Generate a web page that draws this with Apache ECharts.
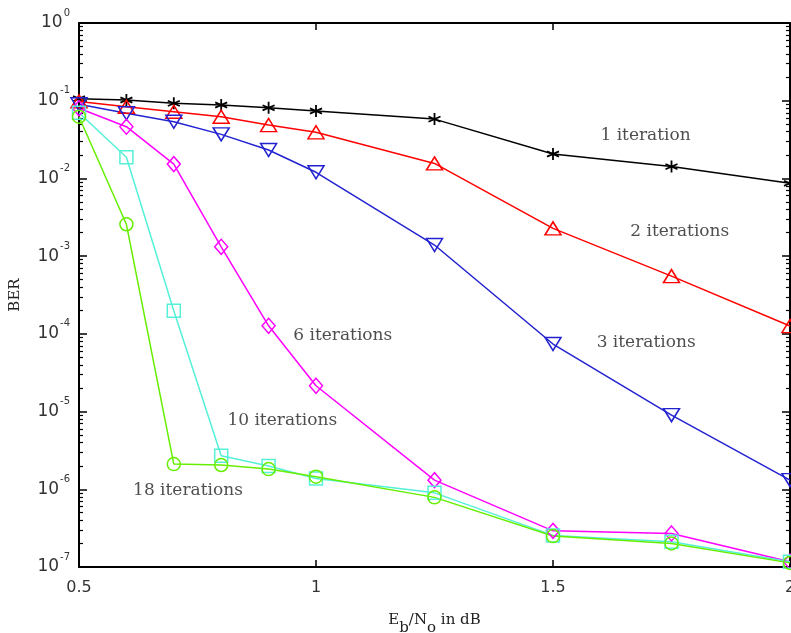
<!DOCTYPE html>
<html>
<head>
<meta charset="utf-8">
<script src="https://cdn.jsdelivr.net/npm/echarts@6/dist/echarts.min.js"></script>
<style>html,body{margin:0;padding:0;background:#fff}#c{width:791px;height:633px}</style>
</head>
<body>
<div id="c"></div>
<script>
// ---- data ----
const ebno = [0.5, 0.6, 0.7, 0.8, 0.9, 1.0, 1.25, 1.5, 1.75, 2.0];
const ber1  = [0.106, 0.102, 0.0925, 0.088, 0.081, 0.0737, 0.058, 0.0206, 0.0142, 0.00865];
const ber2  = [0.098, 0.0837, 0.0722, 0.0622, 0.0486, 0.0392, 0.0156, 0.00228, 0.000554, 0.000126];
const ber3  = [0.09, 0.0689, 0.0537, 0.0369, 0.0232, 0.012, 0.00139, 7.4e-5, 9.0e-6, 1.31e-6];
const ber6  = [0.08, 0.0463, 0.0153, 0.00132, 1.27e-4, 2.15e-5, 1.31e-6, 2.92e-7, 2.7e-7, 1.17e-7];
const ber10 = [0.07, 0.0187, 1.98e-4, 2.7e-6, 1.99e-6, 1.38e-6, 9.0e-7, 2.55e-7, 2.11e-7, 1.17e-7];
const ber18 = [0.0622, 0.00257, 2.11e-6, 2.05e-6, 1.82e-6, 1.45e-6, 7.87e-7, 2.5e-7, 2.01e-7, 1.13e-7];
const xTicks = [0.5, 1, 1.5, 2];
const yDecades = [1e-7, 1e-6, 1e-5, 1e-4, 1e-3, 1e-2, 1e-1, 1];
const annotText = ['1 iteration', '2 iterations', '3 iterations', '6 iterations', '10 iterations', '18 iterations'];
const annotX = [1.599, 1.662, 1.591, 0.951, 0.812, 0.613];
const annotY = [0.0351, 0.00206, 7.68e-5, 9.46e-5, 7.6e-6, 9.57e-7];

// ---- build ----
const yMinor = [];
for (let k = -7; k < 0; k++) for (let m = 2; m <= 9; m++) yMinor.push(m * Math.pow(10, k));

const pair = (ys) => ebno.map((x, i) => [x, ys[i]]);
const asterisk = 'path://M0,-1.15L0,1.15M-0.87,-0.5L0.87,0.5M-0.87,0.5L0.87,-0.5';

function lineSeries(name, ys, color, symbol, size, rotate, bw) {
  return {
    type: 'line', name, data: pair(ys),
    symbol, symbolSize: size, symbolRotate: rotate || 0,
    showAllSymbol: true, clip: false,
    lineStyle: { color, width: 1.5 },
    itemStyle: { color: 'rgba(0,0,0,0)', borderColor: color, borderWidth: bw || 1.5 },
    emphasis: { disabled: true }
  };
}

const tickFont = { fontFamily: 'DejaVu Sans', fontSize: 16, color: '#333' };
const yLabelRich = {
  b: { fontFamily: 'DejaVu Sans', fontSize: 17, color: '#333', lineHeight: 17 },
  s: { fontFamily: 'DejaVu Sans', fontSize: 10, color: '#333', padding: [0, 0, 20, 1] }
};

function yAxisMajor(pos, labels) {
  return {
    type: 'log', logBase: 10, min: 1e-7, max: 1, position: pos,
    axisLine: { show: true, lineStyle: { color: '#000', width: 2 } },
    axisTick: { show: true, inside: true, length: 8, customValues: yDecades, lineStyle: { color: '#000', width: 1.5 } },
    axisLabel: labels ? {
      show: true, margin: 9, customValues: yDecades,
      formatter: v => '{b|10}{s|' + Math.round(Math.log10(v)) + '}',
      rich: yLabelRich
    } : { show: false },
    splitLine: { show: false }, minorTick: { show: false }
  };
}
function yAxisMinor(pos) {
  return {
    type: 'log', logBase: 10, min: 1e-7, max: 1, position: pos,
    axisLine: { show: false },
    axisTick: { show: true, inside: true, length: 4, customValues: yMinor, lineStyle: { color: '#000', width: 1.2 } },
    axisLabel: { show: false }, splitLine: { show: false }
  };
}
function xAxisDef(pos, labels) {
  return {
    type: 'value', min: 0.5, max: 2, interval: 0.5, position: pos,
    axisLine: { show: true, lineStyle: { color: '#000', width: 2 } },
    axisTick: { show: true, inside: true, length: 7, customValues: xTicks, lineStyle: { color: '#000', width: 1.5 } },
    axisLabel: labels ? Object.assign({ show: true, margin: 13, customValues: xTicks, formatter: v => String(v) }, tickFont) : { show: false },
    splitLine: { show: false }
  };
}

const xBottom = xAxisDef('bottom', true);
xBottom.name = 'E{sub|b}/N{sub|o} in dB';
xBottom.nameLocation = 'middle';
xBottom.nameGap = 38;
xBottom.nameTextStyle = {
  fontFamily: 'DejaVu Serif', fontSize: 15, color: '#222',
  rich: { sub: { fontFamily: 'DejaVu Serif', fontSize: 15, color: '#222', padding: [16, 0, 0, 0] } }
};

const yMain = yAxisMajor('left', true);
yMain.name = 'BER';
yMain.nameLocation = 'middle';
yMain.nameGap = 56;
yMain.nameTextStyle = { fontFamily: 'DejaVu Serif', fontSize: 15, color: '#222' };

const option = {
  animation: false,
  backgroundColor: '#fff',
  grid: { left: 79, right: 1, top: 23, bottom: 66, containLabel: false, outerBoundsMode: 'none' },
  xAxis: [xBottom, xAxisDef('top', false)],
  yAxis: [yMain, yAxisMinor('left'), yAxisMajor('right', false), yAxisMinor('right')],
  series: [
    lineSeries('1 iteration', ber1, '#000000', asterisk, 12, 0, 1.8),
    lineSeries('2 iterations', ber2, '#ff0000', 'triangle', [16, 13]),
    lineSeries('3 iterations', ber3, '#2222d0', 'triangle', [16, 13], 180),
    lineSeries('6 iterations', ber6, '#ff00ff', 'diamond', [13, 15]),
    lineSeries('10 iterations', ber10, '#55f0d8', 'rect', [13, 13]),
    lineSeries('18 iterations', ber18, '#66ee00', 'circle', [13, 13]),
    {
      type: 'scatter', symbolSize: 1, silent: true, clip: false,
      itemStyle: { color: 'rgba(0,0,0,0)' },
      data: annotText.map((t, i) => ({ value: [annotX[i], annotY[i]], name: t })),
      label: {
        show: true, position: 'right', distance: 0,
        formatter: p => p.name,
        fontFamily: 'DejaVu Serif', fontSize: 17, color: '#222'
      }
    }
  ]
};

const chart = echarts.init(document.getElementById('c'), null, { renderer: 'canvas' });
chart.setOption(option);
</script>
</body>
</html>
